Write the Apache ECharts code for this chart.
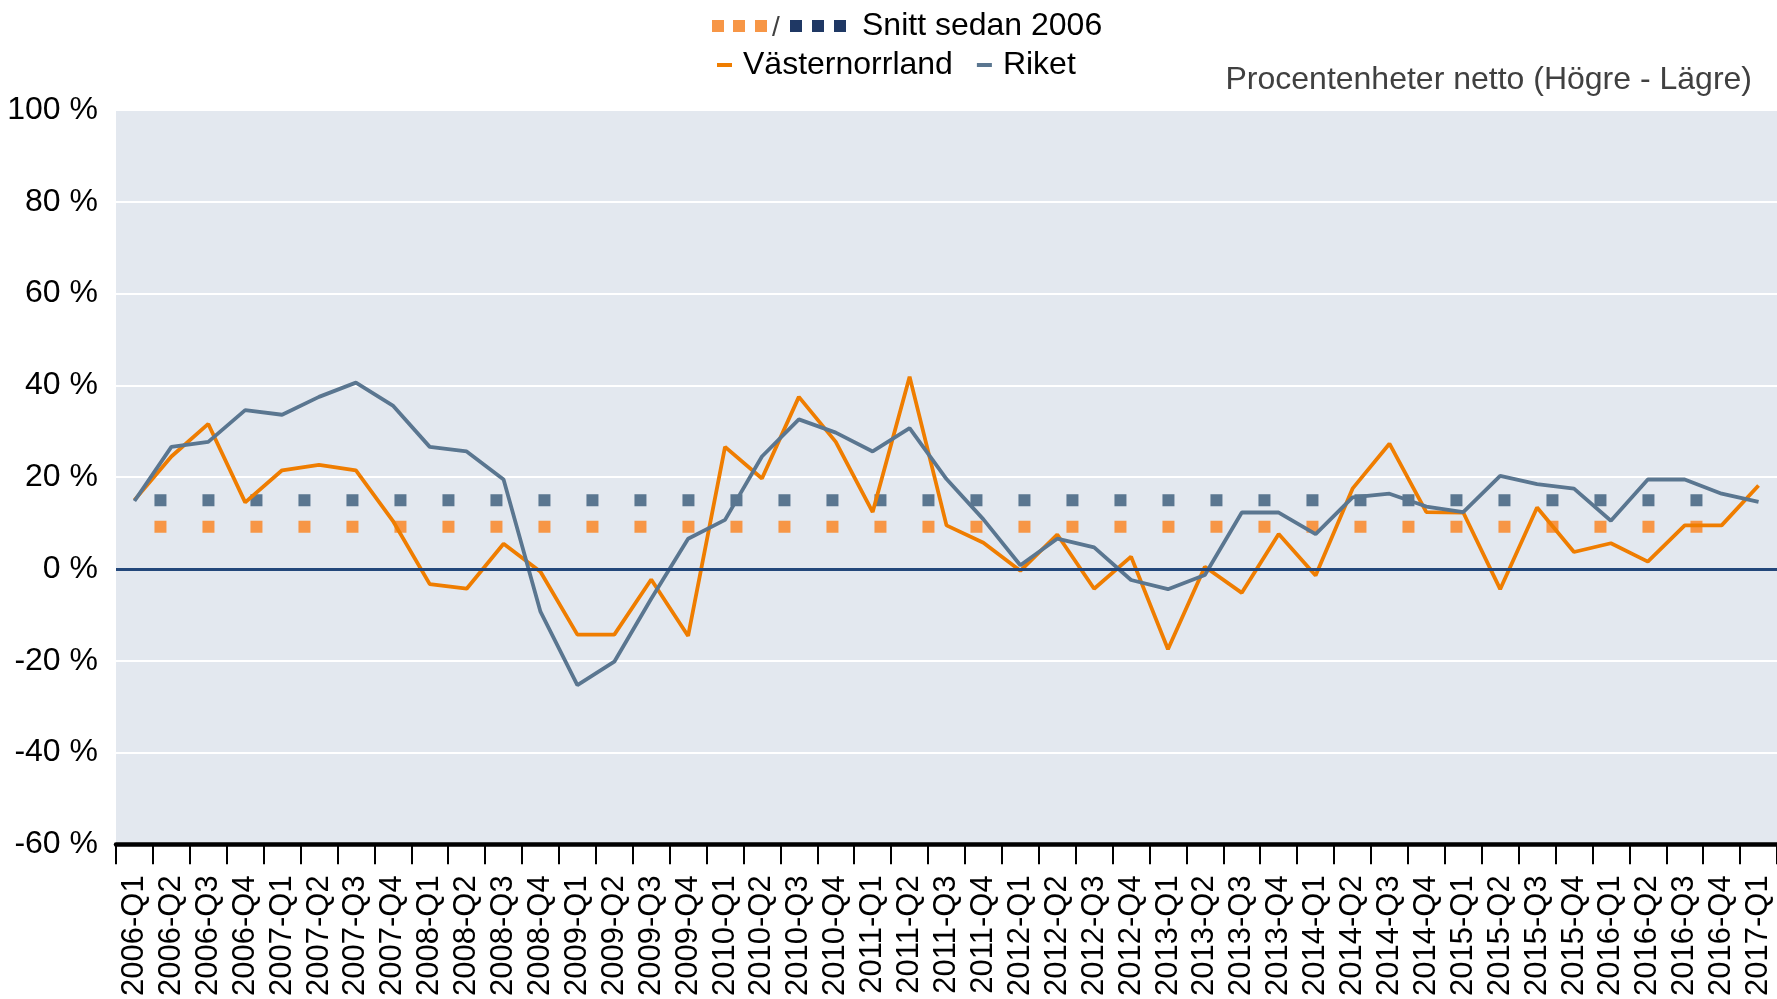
<!DOCTYPE html>
<html>
<head>
<meta charset="utf-8">
<script src="https://cdn.jsdelivr.net/npm/echarts@6/dist/echarts.min.js"></script>
<style>
    html, body { margin: 0; padding: 0; background: #fff; }
    #chart { width: 1777px; height: 999px; }
</style>
</head>
<body>
<div id="chart"></div>
<script>
const quarters = [
    '2006-Q1', '2006-Q2', '2006-Q3', '2006-Q4',
    '2007-Q1', '2007-Q2', '2007-Q3', '2007-Q4',
    '2008-Q1', '2008-Q2', '2008-Q3', '2008-Q4',
    '2009-Q1', '2009-Q2', '2009-Q3', '2009-Q4',
    '2010-Q1', '2010-Q2', '2010-Q3', '2010-Q4',
    '2011-Q1', '2011-Q2', '2011-Q3', '2011-Q4',
    '2012-Q1', '2012-Q2', '2012-Q3', '2012-Q4',
    '2013-Q1', '2013-Q2', '2013-Q3', '2013-Q4',
    '2014-Q1', '2014-Q2', '2014-Q3', '2014-Q4',
    '2015-Q1', '2015-Q2', '2015-Q3', '2015-Q4',
    '2016-Q1', '2016-Q2', '2016-Q3', '2016-Q4',
    '2017-Q1'
];

const vasternorrland = [
    15.0, 24.5, 31.6, 14.5, 21.5, 22.7, 21.5, 10.5,
    -3.3, -4.3, 5.5, -0.6, -14.3, -14.3, -2.3, -14.6,
    26.6, 19.7, 37.5, 27.7, 12.4, 41.9, 9.5, 5.7,
    -0.4, 7.5, -4.3, 2.7, -17.5, 0.5, -5.2, 7.6,
    -1.4, 17.5, 27.3, 12.4, 12.3, -4.4, 13.4, 3.7,
    5.6, 1.6, 9.5, 9.5, 18.2
];

const riket = [
    14.8, 26.6, 27.7, 34.6, 33.6, 37.5, 40.6, 35.6,
    26.6, 25.6, 19.5, -9.3, -25.3, -20.2, -6.5, 6.6,
    10.7, 24.5, 32.6, 29.7, 25.6, 30.7, 19.6, 10.8,
    0.8, 6.6, 4.7, -2.4, -4.4, -1.3, 12.3, 12.3,
    7.6, 15.6, 16.4, 13.6, 12.4, 20.3, 18.5, 17.5,
    10.5, 19.5, 19.5, 16.4, 14.6
];

// Snitt sedan 2006
const vasternorrlandAvg = 9.2;
const riketAvg = 15.0;

const yTicks = {min: -60, max: 100, interval: 20};

const FONT = 'Liberation Sans, Arial, sans-serif';
const ORANGE = '#ef7d00';
const ORANGE_AVG = '#f79646';
const STEEL = '#5a7690';
const NAVY = '#1f3864';

// the average rows stop one quarter short, like in the original
const avgRow = value => quarters.map((q, i) => i < quarters.length - 1 ? value : '-');

const avgLineStyle = color => ({
    color: color,
    width: 12,
    type: [12, 36],
    dashOffset: 28,
    cap: 'butt'
});

const chart = echarts.init(document.getElementById('chart'));

chart.setOption({
    animation: false,
    textStyle: {fontFamily: FONT},
    title: {
        text: 'Procentenheter netto (Högre - Lägre)',
        right: 25,
        top: 64,
        padding: 0,
        textStyle: {fontSize: 32, fontWeight: 'normal', color: '#404040', fontFamily: FONT}
    },
    legend: {
        data: ['Västernorrland', 'Riket'],
        left: 717,
        top: 49,
        padding: 0,
        icon: 'rect',
        itemWidth: 15,
        itemHeight: 4,
        itemGap: 24,
        textStyle: {fontSize: 32, color: '#000', fontFamily: FONT, padding: [0, 0, 0, 6]}
    },
    graphic: [
        {type: 'rect', left: 712, top: 20, shape: {width: 12, height: 12}, style: {fill: ORANGE_AVG}},
        {type: 'rect', left: 733, top: 20, shape: {width: 12, height: 12}, style: {fill: ORANGE_AVG}},
        {type: 'rect', left: 755, top: 20, shape: {width: 12, height: 12}, style: {fill: ORANGE_AVG}},
        {type: 'text', left: 772, top: 14, style: {text: '/', fontSize: 28, fill: '#404040', fontFamily: FONT}},
        {type: 'rect', left: 790, top: 20, shape: {width: 12, height: 12}, style: {fill: NAVY}},
        {type: 'rect', left: 812, top: 20, shape: {width: 12, height: 12}, style: {fill: NAVY}},
        {type: 'rect', left: 834, top: 20, shape: {width: 12, height: 12}, style: {fill: NAVY}},
        {type: 'text', left: 862, top: 10, style: {text: 'Snitt sedan 2006', fontSize: 32, fill: '#000', fontFamily: FONT}}
    ],
    grid: {
        left: 116,
        right: 0,
        top: 110,
        bottom: 154,
        show: true,
        backgroundColor: '#e3e8ef',
        borderWidth: 0
    },
    xAxis: {
        type: 'category',
        data: quarters,
        boundaryGap: true,
        axisLine: {onZero: false, lineStyle: {color: '#000', width: 4.5}},
        axisTick: {show: true, interval: 0, length: 20, lineStyle: {color: '#000', width: 2}},
        axisLabel: {interval: 0, rotate: 90, margin: 31, fontSize: 31, color: '#000', fontFamily: FONT},
        splitLine: {show: false}
    },
    yAxis: {
        type: 'value',
        min: yTicks.min,
        max: yTicks.max,
        interval: yTicks.interval,
        axisLine: {show: false},
        axisTick: {show: false},
        axisLabel: {formatter: '{value} %', fontSize: 32, margin: 18, color: '#000', fontFamily: FONT},
        splitLine: {lineStyle: {color: '#ffffff', width: 2}}
    },
    series: [
        {
            name: 'Snitt Riket',
            type: 'line',
            data: avgRow(riketAvg),
            symbol: 'none',
            z: 1,
            lineStyle: avgLineStyle(STEEL),
            markLine: {
                silent: true,
                symbol: 'none',
                label: {show: false},
                lineStyle: {color: '#23477a', width: 3, type: 'solid'},
                data: [{yAxis: 0}]
            }
        },
        {
            name: 'Snitt Västernorrland',
            type: 'line',
            data: avgRow(vasternorrlandAvg),
            symbol: 'none',
            z: 1,
            lineStyle: avgLineStyle(ORANGE_AVG)
        },
        {
            name: 'Västernorrland',
            type: 'line',
            data: vasternorrland,
            symbol: 'none',
            z: 3,
            color: ORANGE,
            lineStyle: {color: ORANGE, width: 3.8}
        },
        {
            name: 'Riket',
            type: 'line',
            data: riket,
            symbol: 'none',
            z: 4,
            color: STEEL,
            lineStyle: {color: STEEL, width: 3.8}
        }
    ]
});
</script>
</body>
</html>
